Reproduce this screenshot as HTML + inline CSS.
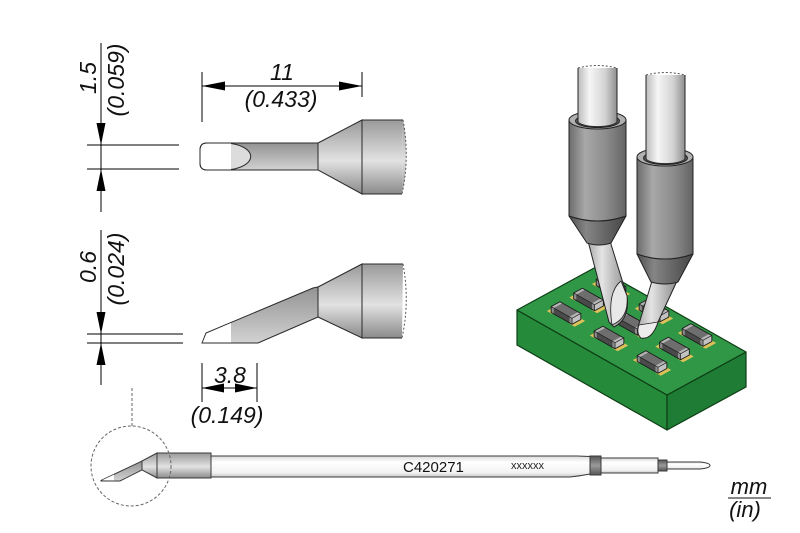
<!DOCTYPE html>
<html><head><meta charset="utf-8"><style>
html,body{margin:0;padding:0;background:#fff;}
svg{display:block;}
text{font-family:"Liberation Sans",Arial,sans-serif;}
</style></head><body>
<svg width="800" height="533" viewBox="0 0 800 533" xmlns="http://www.w3.org/2000/svg">
<defs>
 <linearGradient id="gv" x1="0" y1="0" x2="0" y2="1">
  <stop offset="0" stop-color="#9a9a9a"/><stop offset="0.55" stop-color="#e2e2e2"/><stop offset="1" stop-color="#8a8a8a"/>
 </linearGradient>
 <linearGradient id="gs" x1="0" y1="0" x2="0" y2="1">
  <stop offset="0" stop-color="#939393"/><stop offset="1" stop-color="#d2d2d2"/>
 </linearGradient>
 <linearGradient id="gw" x1="0" y1="0" x2="0" y2="1">
  <stop offset="0" stop-color="#dadada"/><stop offset="0.3" stop-color="#ffffff"/><stop offset="0.8" stop-color="#f2f2f2"/><stop offset="1" stop-color="#c8c8c8"/>
 </linearGradient>
 <linearGradient id="gb" x1="0" y1="0" x2="0" y2="1">
  <stop offset="0" stop-color="#555"/><stop offset="0.5" stop-color="#9a9a9a"/><stop offset="1" stop-color="#555"/>
 </linearGradient>
 <linearGradient id="sleeve" x1="0" y1="0" x2="1" y2="0">
  <stop offset="0" stop-color="#6c6c6c"/><stop offset="0.28" stop-color="#a8a8a8"/><stop offset="0.65" stop-color="#8c8c8c"/><stop offset="1" stop-color="#646464"/>
 </linearGradient>
 <linearGradient id="shaft" x1="0" y1="0" x2="1" y2="0">
  <stop offset="0" stop-color="#bcbcbc"/><stop offset="0.3" stop-color="#f6f6f6"/><stop offset="0.7" stop-color="#d2d2d2"/><stop offset="1" stop-color="#8e8e8e"/>
 </linearGradient>
 <linearGradient id="lshaft" x1="0" y1="0" x2="1" y2="0">
  <stop offset="0" stop-color="#a8a8a8"/><stop offset="0.35" stop-color="#e4e4e4"/><stop offset="1" stop-color="#8c8c8c"/>
 </linearGradient>
 <linearGradient id="cone" x1="0" y1="0" x2="1" y2="0">
  <stop offset="0" stop-color="#505050"/><stop offset="0.3" stop-color="#858585"/><stop offset="1" stop-color="#454545"/>
 </linearGradient>
 <g id="c">
  <polygon points="3.43,7.77 8.65,10.71 19.19,4.97 13.97,2.03" fill="#dcc05a"/>
  <polygon points="-3.43,-7.77 -8.65,-10.71 -19.19,-4.97 -13.97,-2.03" fill="#dcc05a"/>
  <polygon points="-14.83,-3.49 6.05,8.27 6.05,2.27 -14.83,-9.49" fill="#4a4a4a"/>
  <polygon points="6.05,8.27 14.83,3.49 14.83,-2.51 6.05,2.27" fill="#c2c2c2"/>
  <polygon points="-14.83,-9.49 6.05,2.27 14.83,-2.51 -6.05,-14.27" fill="#6e6e6e"/>
  <polygon points="3.44,0.8 6.05,2.27 14.83,-2.51 12.22,-3.98" fill="#b6b6b6"/>
  <polygon points="-14.83,-9.49 -12.22,-8.02 -3.44,-12.8 -6.05,-14.27" fill="#b6b6b6"/>
  <polygon points="3.44,6.8 6.05,8.27 6.05,2.27 3.44,0.8" fill="#8e8e8e"/>
  <polygon points="-14.83,-3.49 -12.22,-2.02 -12.22,-8.02 -14.83,-9.49" fill="#8e8e8e"/>
  <polygon points="-6.05,-14.27 -14.83,-9.49 -14.83,-3.49 6.05,8.27 14.83,3.49 14.83,-2.51" fill="none" stroke="#1a1a1a" stroke-width="0.9" stroke-linejoin="round"/>
  <polyline points="-14.83,-9.49 6.05,2.27 14.83,-2.51" fill="none" stroke="#1a1a1a" stroke-width="0.7"/>
  <line x1="6.05" y1="2.27" x2="6.05" y2="8.27" stroke="#1a1a1a" stroke-width="0.7"/>
 </g>
</defs>

<!-- ===== Dimensions ===== -->
<g stroke="#000" stroke-width="1" fill="none">
 <line x1="101" y1="43" x2="101" y2="212"/>
 <line x1="87" y1="145" x2="179" y2="145"/>
 <line x1="87" y1="169" x2="179" y2="169"/>
 <line x1="202" y1="72" x2="202" y2="122"/>
 <line x1="362" y1="72" x2="362" y2="97"/>
 <line x1="202" y1="86" x2="362" y2="86"/>
 <line x1="101" y1="230" x2="101" y2="385"/>
 <line x1="87" y1="334" x2="183" y2="334"/>
 <line x1="87" y1="343" x2="183" y2="343"/>
 <line x1="202" y1="363" x2="202" y2="402"/>
 <line x1="257" y1="363" x2="257" y2="402"/>
 <line x1="202" y1="388" x2="257" y2="388"/>
</g>
<g fill="#000">
 <polygon points="101,145 96.5,123 105.5,123"/>
 <polygon points="101,169 96.5,191 105.5,191"/>
 <polygon points="202,86 225,81.5 225,90.5"/>
 <polygon points="362,86 339,81.5 339,90.5"/>
 <polygon points="101,334 96.5,312 105.5,312"/>
 <polygon points="101,343 96.5,365 105.5,365"/>
 <polygon points="202,388 224,383.5 224,392.5"/>
 <polygon points="257,388 235,383.5 235,392.5"/>
</g>
<g font-size="23" font-style="italic" fill="#111" text-anchor="middle">
 <text x="282" y="80">11</text>
 <text x="281" y="107">(0.433)</text>
 <text transform="translate(96,78) rotate(-90)">1.5</text>
 <text transform="translate(124,80) rotate(-90)">(0.059)</text>
 <text transform="translate(96,267) rotate(-90)">0.6</text>
 <text transform="translate(124,269) rotate(-90)">(0.024)</text>
 <text x="230" y="383">3.8</text>
 <text x="227" y="423">(0.149)</text>
</g>

<!-- ===== Top view tip ===== -->
<g stroke="#2a2a2a" stroke-width="1">
 <path d="M403,120 L362,120 L362,194 L402,194" fill="url(#gv)"/>
 <path d="M403,120 Q410,157 402,194" fill="url(#gv)" stroke="#555" stroke-dasharray="2,2"/>
 <path d="M318,143 L362,120 L362,194 L318,170 Z" fill="url(#gv)"/>
 <path d="M318,143 L207,143 Q200,143 200,150 L200,163 Q200,170 207,170 L318,170 Z" fill="url(#gs)"/>
</g>
<path d="M231,143.5 A27,13.5 0 0 1 231,169.5 Z" fill="#dcdcdc"/>
<path d="M231,143.5 A27,13.5 0 0 1 231,169.5" fill="none" stroke="#2a2a2a" stroke-width="1"/>
<path d="M207,143.5 Q200.5,143.5 200.5,150 L200.5,163 Q200.5,169.5 207,169.5 L231,169.5 L231,143.5 Z" fill="#fff"/>
<path d="M318,143 L207,143 Q200,143 200,150 L200,163 Q200,170 207,170 L318,170" fill="none" stroke="#2a2a2a" stroke-width="1"/>

<!-- ===== Side view tip ===== -->
<g stroke="#2a2a2a" stroke-width="1">
 <path d="M403,264 L362,264 L362,338 L402,338" fill="url(#gv)"/>
 <path d="M403,264 Q410,301 402,338" fill="none" stroke="#555" stroke-dasharray="2,2"/>
 <path d="M318,287 L362,264 L362,338 L318,317 Z" fill="url(#gv)"/>
 <path d="M202,343 L206,333 L313,288 L318,287 L318,317 L258,343 Z" fill="url(#gs)"/>
</g>
<path d="M202.7,342.5 L206.5,333.5 L231,323 L231,342.5 Z" fill="#fff"/>

<!-- ===== Full tip ===== -->
<line x1="132" y1="388" x2="132" y2="426" stroke="#666" stroke-width="1" stroke-dasharray="3,2"/>
<g stroke="#3a3a3a" stroke-width="1">
 <path d="M211,456 L577,456 L590,456.5 L590,474 Q580,476 570,477 L211,477 Z" fill="url(#gw)"/>
 <rect x="590" y="456" width="11" height="19" fill="url(#gb)"/>
 <rect x="601" y="458" width="57" height="15" fill="url(#gw)"/>
 <rect x="658" y="460" width="9" height="11" fill="url(#gb)"/>
 <path d="M667,462 L700,462 Q710,463 710,465.5 Q710,468 700,469 L667,469 Z" fill="url(#gw)"/>
 <rect x="157" y="453" width="54" height="25" fill="url(#gv)"/>
 <path d="M142,461 L157,453 L157,478 L142,470 Z" fill="url(#gv)"/>
 <path d="M101,480.5 L142,461 L142,470 L120,481 L101,481 Z" fill="url(#gs)"/>
</g>
<path d="M102,480.3 L114,474.6 L114,480.5 Z" fill="#fff"/>
<circle cx="131" cy="466" r="40" fill="none" stroke="#666" stroke-width="1" stroke-dasharray="3,2"/>
<text x="403" y="472" font-size="15" fill="#111">C420271</text>
<text x="511" y="469" font-size="11" fill="#222">xxxxxx</text>

<!-- mm / in -->
<g font-size="22" font-style="italic" fill="#111" text-anchor="middle">
 <text x="749" y="494">mm</text>
 <text x="745" y="517">(in)</text>
</g>
<line x1="728" y1="498" x2="771" y2="498" stroke="#111" stroke-width="1"/>

<!-- ===== PCB ===== -->
<g stroke="#0d3d15" stroke-width="1.2" stroke-linejoin="round">
 <polygon points="517,310 667,395 667,430 517,345" fill="#268a3b"/>
 <polygon points="667,395 746,352 746,387 667,430" fill="#1f7c34"/>
 <polygon points="517,310 596,267 746,352 667,395" fill="#2f9745"/>
</g>
<use href="#c" x="611" y="289"/>
<use href="#c" x="588.5" y="302.5"/>
<use href="#c" x="654" y="313.5"/>
<use href="#c" x="566" y="316"/>
<use href="#c" x="631.5" y="327"/>
<use href="#c" x="697" y="338"/>
<use href="#c" x="609" y="340.5"/>
<use href="#c" x="674.5" y="351.5"/>
<use href="#c" x="652" y="365"/>

<!-- ===== Left tool ===== -->
<g stroke="#222" stroke-width="1" stroke-linejoin="round">
 <path d="M588,241 L610,241 L627,296 Q630,319 614,327 L609,322 Z" fill="url(#lshaft)"/>
 <path d="M621,281 Q607,292 612,325 Q629,318 627,296 Z" fill="#e8e8e8" stroke-width="0.8"/>
 <path d="M569,216 Q597.5,226 626,216 L611,243 Q599,247 587,243 Z" fill="url(#cone)"/>
 <path d="M569,120 L569,216 Q597.5,226 626,216 L626,120 Z" fill="url(#sleeve)"/>
 <ellipse cx="597.5" cy="120" rx="28.5" ry="9" fill="#b0b0b0"/>
 <ellipse cx="597.5" cy="121" rx="22" ry="6.5" fill="#5a5a5a"/>
</g>
<path d="M578,68 L578,121 A19.5,5.5 0 0 0 617,121 L617,68 Z" fill="url(#shaft)"/>
<g stroke="#222" stroke-width="1" fill="none">
 <line x1="578" y1="68" x2="578" y2="122"/>
 <line x1="617" y1="68" x2="617" y2="122"/>
 <path d="M578,121 A19.5,5.5 0 0 0 617,121" stroke-width="0.8"/>
</g>
<path d="M578,68 Q597.5,63 617,68" fill="none" stroke="#555" stroke-width="1" stroke-dasharray="2,2"/>

<!-- ===== Right tool ===== -->
<g stroke="#222" stroke-width="1" stroke-linejoin="round">
 <path d="M652,281 L677,281 L658,322 Q652,340 641,338 Q636,333 638,327 Z" fill="url(#lshaft)"/>
 <path d="M639,325 L658,322 Q652,340 641,338 Q636,333 639,325 Z" fill="#ececec" stroke-width="0.8"/>
 <path d="M637,254 Q665,264 693,254 L678,282 Q665,286 651,282 Z" fill="url(#cone)"/>
 <path d="M637,157 L637,254 Q665,264 693,254 L693,157 Z" fill="url(#sleeve)"/>
 <ellipse cx="665" cy="157" rx="28" ry="9" fill="#b0b0b0"/>
 <ellipse cx="665.5" cy="158" rx="22" ry="6.5" fill="#5a5a5a"/>
</g>
<path d="M646,75 L646,158 A19.5,5.5 0 0 0 685,158 L685,75 Z" fill="url(#shaft)"/>
<g stroke="#222" stroke-width="1" fill="none">
 <line x1="646" y1="75" x2="646" y2="159"/>
 <line x1="685" y1="75" x2="685" y2="159"/>
 <path d="M646,158 A19.5,5.5 0 0 0 685,158" stroke-width="0.8"/>
</g>
<path d="M646,75 Q665.5,70 685,75" fill="none" stroke="#555" stroke-width="1" stroke-dasharray="2,2"/>
</svg>
</body></html>
